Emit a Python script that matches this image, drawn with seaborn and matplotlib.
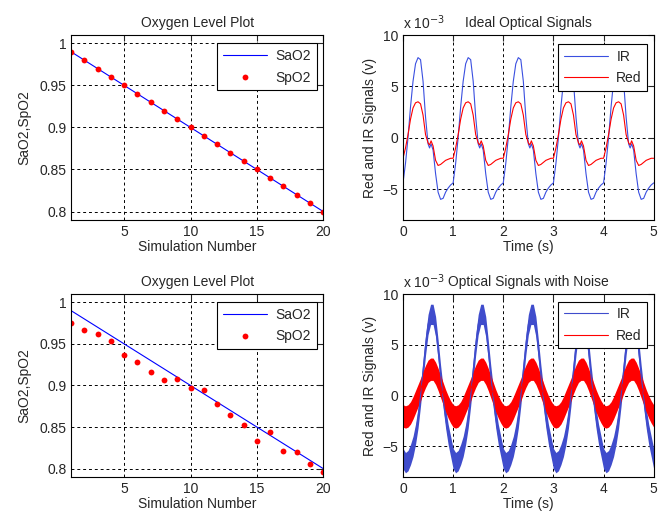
import numpy as np
import matplotlib
matplotlib.use("Agg")
import matplotlib.pyplot as plt
import seaborn as sns

sns.set_style("white")
plt.rcParams["font.family"] = ["Liberation Sans", "DejaVu Sans"]
plt.rcParams["font.size"] = 10

# Oxygen level data (simulation number vs saturation)
sim_number = [1, 2, 3, 4, 5, 6, 7, 8, 9, 10, 11, 12, 13, 14, 15, 16, 17, 18, 19, 20]
sao2 = [0.99, 0.98, 0.97, 0.96, 0.95, 0.94, 0.93, 0.92, 0.91, 0.90,
        0.89, 0.88, 0.87, 0.86, 0.85, 0.84, 0.83, 0.82, 0.81, 0.80]
spo2_ideal = [0.99, 0.98, 0.97, 0.96, 0.95, 0.94, 0.93, 0.92, 0.91, 0.90,
              0.89, 0.88, 0.87, 0.86, 0.85, 0.84, 0.83, 0.82, 0.81, 0.80]
spo2_noisy = [0.975, 0.967, 0.962, 0.954, 0.937, 0.928, 0.916, 0.906, 0.908, 0.897,
              0.894, 0.878, 0.864, 0.853, 0.833, 0.844, 0.821, 0.820, 0.806, 0.796]

# One pulse period of the optical signals (x 10^-3 V), repeated every second
phase = [0.00, 0.05, 0.10, 0.15, 0.20, 0.25, 0.30, 0.35, 0.40, 0.45,
         0.50, 0.53, 0.56, 0.60, 0.65, 0.70, 0.75, 0.80, 0.85, 0.90, 0.95]
ir_ideal = [-4.4, -2.5, 0.0, 3.0, 5.5, 7.2, 7.8, 7.6, 5.5, 2.0,
            -0.6, -1.0, -0.6, -1.2, -3.5, -5.3, -6.0, -5.9, -5.3, -4.9, -4.6]
red_ideal = [-2.0, -1.0, 0.3, 1.8, 2.9, 3.4, 3.5, 3.3, 2.2, 0.3,
             -0.5, -0.7, -0.3, -0.8, -2.2, -2.7, -2.6, -2.4, -2.2, -2.1, -2.0]

phase_noisy = [0.00, 0.05, 0.10, 0.15, 0.20, 0.25, 0.30, 0.35, 0.40, 0.45,
               0.50, 0.55, 0.60, 0.65, 0.70, 0.75, 0.80, 0.85, 0.90, 0.95]
ir_noisy = [-6.2, -6.6, -6.4, -5.8, -5.0, -3.8, -2.2, 0.0, 2.5, 5.0,
            7.0, 8.0, 8.0, 6.8, 4.5, 2.0, -0.2, -2.2, -3.8, -5.0]
red_noisy = [-2.0, -2.1, -2.0, -1.7, -1.2, -0.6, 0.0, 0.6, 1.3, 1.9,
             2.4, 2.6, 2.6, 2.2, 1.6, 0.9, 0.2, -0.5, -1.1, -1.6]
ir_noise_halfwidth = 1.0
red_noise_halfwidth = 1.1
n_periods = 5


def tile_period(ph, vals, n):
    t = np.concatenate([np.array(ph) + k for k in range(n)] + [[float(n)]])
    v = np.concatenate([np.array(vals)] * n + [[vals[0]]])
    return t, v


def style_axes(ax):
    ax.grid(True, color="black", linestyle=(0, (3, 3)), linewidth=0.7)
    ax.tick_params(direction="in", length=4, top=True, right=True, labelsize=10)
    for s in ax.spines.values():
        s.set_color("black")
        s.set_linewidth(0.8)


def add_legend(ax, top):
    leg = ax.legend(loc="upper right", bbox_to_anchor=(0.975, top), borderaxespad=0,
                    fancybox=False, framealpha=1, edgecolor="black",
                    handlelength=3.2, handletextpad=0.6, labelspacing=0.55, fontsize=10)
    leg.get_frame().set_linewidth(0.8)


fig = plt.figure(figsize=(6.65, 5.15), dpi=100)
ax_tl = fig.add_axes([0.107, 0.573, 0.379, 0.359])
ax_tr = fig.add_axes([0.606, 0.573, 0.377, 0.359])
ax_bl = fig.add_axes([0.107, 0.074, 0.379, 0.355])
ax_br = fig.add_axes([0.606, 0.074, 0.377, 0.355])

# Oxygen level plots
for ax, spo2 in [(ax_tl, spo2_ideal), (ax_bl, spo2_noisy)]:
    sns.lineplot(x=sim_number, y=sao2, ax=ax, color="blue", linewidth=0.8,
                 label="SaO2", estimator=None)
    ax.plot(sim_number, spo2, linestyle="none", marker="o", markersize=4.2,
            color="red", markeredgewidth=0, label="SpO2")
    ax.set_xlim(1, 20)
    ax.set_ylim(0.79, 1.01)
    ax.set_xticks([5, 10, 15, 20])
    ax.set_yticks([0.8, 0.85, 0.9, 0.95, 1.0])
    ax.set_yticklabels(["0.8", "0.85", "0.9", "0.95", "1"])
    ax.set_title("Oxygen Level Plot", fontsize=10, pad=6)
    ax.set_xlabel("Simulation Number", fontsize=10, labelpad=1)
    ax.set_ylabel("SaO2,SpO2", fontsize=10, labelpad=6)
    style_axes(ax)
    add_legend(ax, 0.955)

# Ideal optical signals
t_i, ir_i = tile_period(phase, ir_ideal, n_periods)
_, red_i = tile_period(phase, red_ideal, n_periods)
sns.lineplot(x=t_i, y=ir_i, ax=ax_tr, color="#3a4fe0", linewidth=0.8, label="IR",
             estimator=None, sort=False)
sns.lineplot(x=t_i, y=red_i, ax=ax_tr, color="red", linewidth=0.8, label="Red",
             estimator=None, sort=False)

# Optical signals with noise (noise shown as a band of the read width)
t_n, ir_n = tile_period(phase_noisy, ir_noisy, n_periods)
_, red_n = tile_period(phase_noisy, red_noisy, n_periods)
ax_br.fill_between(t_n, ir_n - ir_noise_halfwidth, ir_n + ir_noise_halfwidth,
                   color="#3f4ccc", linewidth=0)
sns.lineplot(x=t_n, y=ir_n, ax=ax_br, color="#3f4ccc", linewidth=0.8, label="IR",
             estimator=None, sort=False)
ax_br.fill_between(t_n, red_n - red_noise_halfwidth, red_n + red_noise_halfwidth,
                   color="red", linewidth=0)
sns.lineplot(x=t_n, y=red_n, ax=ax_br, color="red", linewidth=0.8, label="Red",
             estimator=None, sort=False)

for ax, title, top in [(ax_tr, "Ideal Optical Signals", 0.951),
                       (ax_br, "Optical Signals with Noise", 0.958)]:
    ax.set_xlim(0, 5)
    ax.set_ylim(-8, 10)
    ax.set_xticks([0, 1, 2, 3, 4, 5])
    ax.set_yticks([-5, 0, 5, 10])
    ax.set_title(title, fontsize=10, pad=6)
    ax.set_xlabel("Time (s)", fontsize=10, labelpad=1)
    ax.set_ylabel("Red and IR Signals (v)", fontsize=10, labelpad=4)
    ax.text(0.0, 1.015, "x 10$^{-3}$", transform=ax.transAxes, fontsize=10,
            ha="left", va="bottom")
    style_axes(ax)
    add_legend(ax, top)

fig.savefig("out.png", dpi=100)
